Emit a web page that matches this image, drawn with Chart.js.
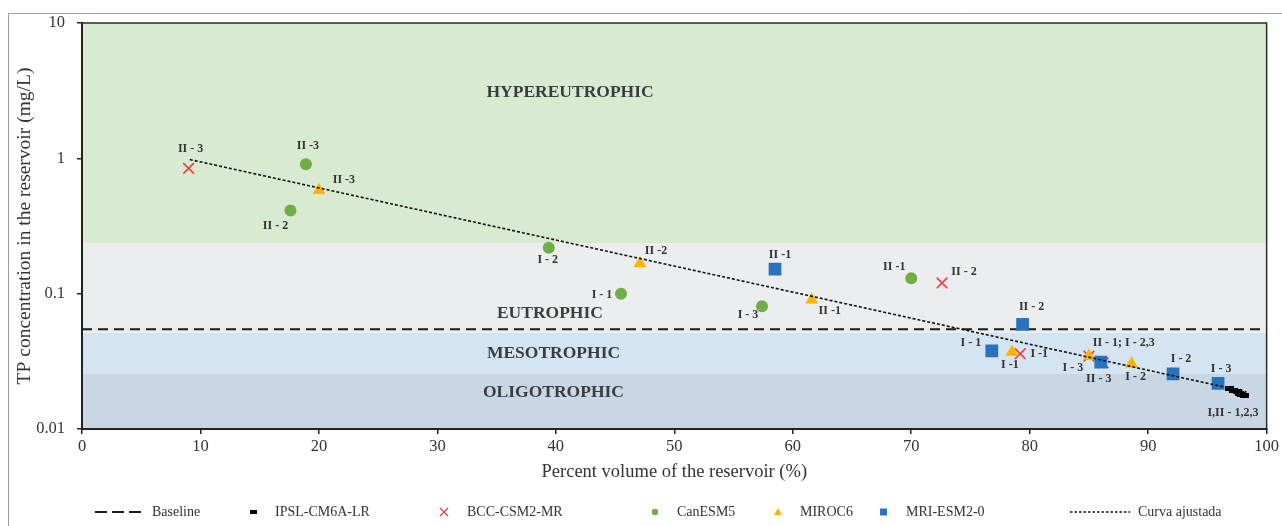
<!DOCTYPE html>
<html>
<head>
<meta charset="utf-8">
<script src="https://cdn.jsdelivr.net/npm/chart.js@4/dist/chart.umd.min.js"></script>
<style>
  html, body { margin: 0; padding: 0; background: #ffffff; }
  canvas { display: block; }
</style>
</head>
<body>
<canvas id="chart" width="1282" height="526"></canvas>
<script>
const SERIF = '"Liberation Serif", "Times New Roman", serif';

// ---- data -------------------------------------------------------------
// Trophic state classes of total phosphorus (mg/L)
const bandNames   = ['HYPEREUTROPHIC', 'EUTROPHIC', 'MESOTROPHIC', 'OLIGOTROPHIC'];
const bandUpper   = [10, 0.235, 0.0516, 0.0255];
const bandLower   = [0.235, 0.0516, 0.0255, 0.01];

// Baseline TP concentration (mg/L)
const baselineTP = 0.0547;

// Y axis decades
const yTicks = [0.01, 0.1, 1, 10];

// IPSL-CM6A-LR (all scenarios I, II - 1,2,3)
const ipslX = [96.9, 97.2, 97.5, 97.7, 97.9, 98.1];
const ipslY = [0.0198, 0.0194, 0.0190, 0.0184, 0.0180, 0.0176];
const ipslNames = ['I,II - 1,2,3', '', '', '', '', ''];

// BCC-CSM2-MR
const bccX = [9.0, 72.6, 79.2, 85.0, 86.0, 86.2];
const bccY = [0.843, 0.120, 0.0360, 0.0345, 0.0312, 0.0308];
const bccNames = ['II - 3', 'II - 2', 'I -1', '', 'II - 1; I - 2,3', ''];

// CanESM5
const canX = [18.9, 17.6, 39.4, 45.5, 57.4, 70.0];
const canY = [0.904, 0.412, 0.218, 0.100, 0.0806, 0.130];
const canNames = ['II -3', 'II - 2', 'I - 2', 'I - 1', 'I - 3', 'II -1'];

// MIROC6
const mirX = [20.0, 47.1, 61.6, 78.5, 85.0, 88.6];
const mirY = [0.582, 0.167, 0.0903, 0.0370, 0.0347, 0.0303];
const mirNames = ['II -3', 'II -2', 'II -1', 'I -1', 'I - 3', 'I - 2'];

// MRI-ESM2-0
const mriX = [58.5, 79.4, 76.8, 86.0, 92.1, 95.9];
const mriY = [0.152, 0.0593, 0.0378, 0.0312, 0.0255, 0.0217];
const mriNames = ['II -1', 'II - 2', 'I - 1', 'II - 3', 'I - 2', 'I - 3'];

// Fitted exponential curve (end points)
const fitX = [9.1, 98.3];
const fitY = [0.98, 0.0188];

// ---- layout helpers ---------------------------------------------------
const pts = (xs, ys) => xs.map((v, i) => ({ x: v, y: ys[i] }));

// label offsets in px from each marker centre
const ipslTagPos = [[3, 24], [0, 0], [0, 0], [0, 0], [0, 0], [0, 0]];
const bccTagPos  = [[2, -19], [22, -11], [19, 0], [0, 0], [23, -19], [0, 0]];
const canTagPos  = [[2, -18], [-15, 15], [-1, 12], [-19, 1], [-14, 9], [-17, -11]];
const mirTagPos  = [[25, -10], [16, -13], [18, 11], [-2, 13], [-16, 12], [4, 13]];
const mriTagPos  = [[5, -14], [9, -17], [-21, -8], [-2, 17], [8, -15], [3, -15]];

const bandColors = ['#d9eAd3', '#ebedef', '#d4e4f1', '#c9d6e3'];
// where each class name is written (data coordinates)
const bandTextAt = [[41.2, 3.08], [39.5, 0.0711], [39.8, 0.0360], [39.8, 0.0185]];

// small black bar used for the IPSL series
const ipslMark = document.createElement('canvas');
ipslMark.width = 9; ipslMark.height = 5;
(function () { const g = ipslMark.getContext('2d'); g.fillStyle = '#000'; g.fillRect(0, 0, 9, 5); })();

// ---- drawing plugin ---------------------------------------------------
const decor = {
  id: 'decor',
  beforeDraw(chart) {
    const { ctx, chartArea: a, scales: { y } } = chart;
    ctx.save();
    // outer frame
    ctx.strokeStyle = '#9c9c9c';
    ctx.lineWidth = 1;
    ctx.beginPath();
    ctx.moveTo(8.5, 526); ctx.lineTo(8.5, 13.5); ctx.lineTo(1282, 13.5);
    ctx.stroke();
    // trophic bands
    bandUpper.forEach((u, i) => {
      const y0 = y.getPixelForValue(u), y1 = y.getPixelForValue(bandLower[i]);
      ctx.fillStyle = bandColors[i];
      ctx.fillRect(a.left, y0, a.right - a.left, y1 - y0);
    });
    // plot border
    ctx.strokeStyle = '#2b2b2b';
    ctx.lineWidth = 1.5;
    ctx.strokeRect(a.left, a.top, a.right - a.left, a.bottom - a.top);
    ctx.restore();
  },
  beforeDatasetsDraw(chart) {
    const { ctx, scales: { x, y } } = chart;
    ctx.save();
    ctx.font = 'bold 17.5px ' + SERIF;
    ctx.fillStyle = '#3a3d40';
    ctx.textAlign = 'center';
    ctx.textBaseline = 'middle';
    bandNames.forEach((n, i) => {
      ctx.fillText(n, x.getPixelForValue(bandTextAt[i][0]), y.getPixelForValue(bandTextAt[i][1]));
    });
    ctx.restore();
  },
  afterDatasetsDraw(chart) {
    const { ctx } = chart;
    ctx.save();
    ctx.font = 'bold 12px ' + SERIF;
    ctx.fillStyle = '#333333';
    ctx.textAlign = 'center';
    ctx.textBaseline = 'middle';
    chart.data.datasets.forEach((ds, di) => {
      if (!ds.tags) return;
      const meta = chart.getDatasetMeta(di);
      ds.tags.forEach((t, i) => {
        if (!t) return;
        const p = meta.data[i];
        ctx.fillText(t, p.x + ds.tagPos[i][0], p.y + ds.tagPos[i][1]);
      });
    });
    ctx.restore();
  },
  afterDraw(chart) {
    const { ctx } = chart;
    const ly = 512;
    ctx.save();
    ctx.font = '14px ' + SERIF;
    ctx.fillStyle = '#333333';
    ctx.textAlign = 'left';
    ctx.textBaseline = 'middle';
    // Baseline
    ctx.strokeStyle = '#1a1a1a'; ctx.lineWidth = 2; ctx.setLineDash([12, 5]);
    ctx.beginPath(); ctx.moveTo(95, ly); ctx.lineTo(141, ly); ctx.stroke();
    ctx.setLineDash([]);
    ctx.fillText('Baseline', 152, ly);
    // IPSL
    ctx.fillStyle = '#000'; ctx.fillRect(250, ly - 2, 7, 4);
    ctx.fillStyle = '#333333'; ctx.fillText('IPSL-CM6A-LR', 275, ly);
    // BCC
    ctx.strokeStyle = '#f03c3c'; ctx.lineWidth = 1.3;
    ctx.beginPath();
    ctx.moveTo(440, ly - 4); ctx.lineTo(448, ly + 4);
    ctx.moveTo(448, ly - 4); ctx.lineTo(440, ly + 4);
    ctx.stroke();
    ctx.fillText('BCC-CSM2-MR', 467, ly);
    // CanESM5
    ctx.fillStyle = '#70ad47';
    ctx.beginPath(); ctx.arc(655, ly, 3.2, 0, Math.PI * 2); ctx.fill();
    ctx.fillStyle = '#333333'; ctx.fillText('CanESM5', 677, ly);
    // MIROC6
    ctx.fillStyle = '#ffb300';
    ctx.beginPath(); ctx.moveTo(778, ly - 4); ctx.lineTo(782, ly + 3); ctx.lineTo(774, ly + 3); ctx.closePath(); ctx.fill();
    ctx.fillStyle = '#333333'; ctx.fillText('MIROC6', 800, ly);
    // MRI
    ctx.fillStyle = '#2a72bd'; ctx.fillRect(880, ly - 3.5, 7, 7);
    ctx.fillStyle = '#333333'; ctx.fillText('MRI-ESM2-0', 906, ly);
    // fitted curve
    ctx.strokeStyle = '#111'; ctx.lineWidth = 1.5; ctx.setLineDash([2.5, 2]);
    ctx.beginPath(); ctx.moveTo(1070, ly); ctx.lineTo(1130, ly); ctx.stroke();
    ctx.setLineDash([]);
    ctx.fillText('Curva ajustada', 1138, ly);
    ctx.restore();
  }
};

// ---- chart ------------------------------------------------------------
new Chart(document.getElementById('chart'), {
  type: 'scatter',
  data: {
    datasets: [
      {
        label: 'Curva ajustada', data: pts(fitX, fitY), showLine: true, fill: false,
        borderColor: '#111111', borderWidth: 1.6, borderDash: [3, 2], pointRadius: 0, order: 1
      },
      {
        label: 'IPSL-CM6A-LR', data: pts(ipslX, ipslY), pointStyle: ipslMark,
        tags: ipslNames, tagPos: ipslTagPos, order: 2
      },
      {
        label: 'MRI-ESM2-0', data: pts(mriX, mriY), pointStyle: 'rect', pointRadius: 9,
        pointBackgroundColor: '#2a72bd', pointBorderWidth: 0,
        tags: mriNames, tagPos: mriTagPos, order: 3
      },
      {
        label: 'MIROC6', data: pts(mirX, mirY), pointStyle: 'triangle', pointRadius: 7.5,
        pointBackgroundColor: '#ffb300', pointBorderWidth: 0,
        tags: mirNames, tagPos: mirTagPos, order: 4
      },
      {
        label: 'CanESM5', data: pts(canX, canY), pointStyle: 'circle', pointRadius: 6,
        pointBackgroundColor: '#70ad47', pointBorderWidth: 0,
        tags: canNames, tagPos: canTagPos, order: 5
      },
      {
        label: 'BCC-CSM2-MR', data: pts(bccX, bccY), pointStyle: 'crossRot', pointRadius: 7.5,
        pointBorderColor: '#f03c3c', pointBorderWidth: 1.6,
        tags: bccNames, tagPos: bccTagPos, order: 6
      },
      {
        label: 'Baseline', data: [{ x: 0, y: baselineTP }, { x: 100, y: baselineTP }], showLine: true, fill: false,
        borderColor: '#1a1a1a', borderWidth: 2, borderDash: [10, 6], pointRadius: 0, order: 9
      }
    ]
  },
  options: {
    responsive: false,
    devicePixelRatio: 1,
    animation: false,
    events: [],
    layout: { padding: { left: 8, right: 14, top: 23, bottom: 0 } },
    plugins: { legend: { display: false }, tooltip: { enabled: false } },
    scales: {
      x: {
        type: 'linear', min: 0, max: 100,
        afterFit(s) { s.height = 97; },
        ticks: { stepSize: 10, padding: 3, color: '#333333', font: { family: SERIF, size: 16.5 } },
        grid: { drawOnChartArea: false, drawTicks: true, tickLength: 5, color: '#222222', lineWidth: 1.5 },
        border: { color: '#222222', width: 2 },
        title: {
          display: true, text: 'Percent volume of the reservoir (%)', color: '#333333',
          font: { family: SERIF, size: 18.5 }, padding: { top: 0, bottom: 43 }
        }
      },
      y: {
        type: 'logarithmic', min: 0.01, max: 10,
        afterFit(s) { s.width = 74; },
        afterBuildTicks(s) { s.ticks = yTicks.map(v => ({ value: v })); },
        ticks: { padding: 12, color: '#333333', font: { family: SERIF, size: 16.5 }, callback: v => String(v) },
        grid: { drawOnChartArea: false, drawTicks: true, tickLength: 5, color: '#222222', lineWidth: 1.5 },
        border: { color: '#222222', width: 2 },
        title: {
          display: true, text: 'TP concentration in the reservoir (mg/L)', color: '#333333',
          font: { family: SERIF, size: 19.5 }, padding: { top: 5, bottom: 0 }
        }
      }
    }
  },
  plugins: [decor]
});
</script>
</body>
</html>
